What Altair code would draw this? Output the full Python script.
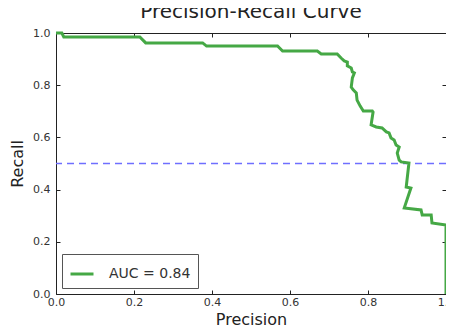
import altair as alt
import pandas as pd

# Precision-recall curve vertices
precision = [0.000, 0.015, 0.020, 0.215, 0.230, 0.376, 0.386, 0.568, 0.581, 0.670,
             0.680, 0.721, 0.731, 0.739, 0.747, 0.747, 0.757, 0.760, 0.765, 0.760,
             0.757, 0.762, 0.770, 0.772, 0.780, 0.788, 0.811, 0.813, 0.808, 0.821,
             0.836, 0.847, 0.854, 0.859, 0.867, 0.872, 0.880, 0.875, 0.880, 0.885,
             0.905, 0.898, 0.910, 0.893, 0.936, 0.939, 0.962, 0.964, 1.000, 1.000]
recall = [1.000, 1.000, 0.985, 0.985, 0.962, 0.962, 0.950, 0.950, 0.931, 0.931,
          0.920, 0.920, 0.904, 0.893, 0.889, 0.874, 0.866, 0.851, 0.847, 0.828,
          0.793, 0.782, 0.770, 0.743, 0.720, 0.701, 0.701, 0.697, 0.648, 0.640,
          0.636, 0.621, 0.617, 0.598, 0.590, 0.571, 0.563, 0.540, 0.513, 0.506,
          0.502, 0.410, 0.406, 0.330, 0.322, 0.303, 0.303, 0.272, 0.264, 0.000]
legend_label = ["AUC = 0.84"]
threshold = [0.5]
tick_values = [0.0, 0.2, 0.4, 0.6, 0.8, 1.0]

df = pd.DataFrame({
    "precision": precision,
    "recall": recall,
    "idx": list(range(len(precision))),
    "series": legend_label * len(precision),
})
rule_df = pd.DataFrame({"y": threshold})

FONT = "DejaVu Sans"
GREEN = "#45a845"

xscale = alt.Scale(domain=[0, 1], nice=False, zero=False)
yscale = alt.Scale(domain=[0, 1], nice=False, zero=False)

rule = alt.Chart(rule_df).mark_rule(
    color="#6f6fff", strokeDash=[7, 5], strokeWidth=1.5
).encode(y=alt.Y("y:Q", scale=yscale, axis=None))

line = alt.Chart(df).mark_line(strokeWidth=3, strokeJoin="miter").encode(
    x=alt.X("precision:Q", scale=xscale,
            axis=alt.Axis(values=tick_values, format=".1f", title="Precision",
                          grid=False, domain=False, tickSize=4, offset=-4,
                          labelFlush=False, labelBound=False,
                          labelPadding=2, labelFontSize=11, labelColor="#333",
                          tickColor="#222", titleFontSize=16, titleFont=FONT,
                          titleFontWeight="normal", titleColor="#222",
                          titlePadding=4, labelFont=FONT)),
    y=alt.Y("recall:Q", scale=yscale,
            axis=alt.Axis(values=tick_values, format=".1f", title="Recall",
                          grid=False, domain=False, tickSize=4, offset=-4,
                          labelFlush=False, labelBound=False,
                          labelPadding=6, labelFontSize=11, labelColor="#333",
                          tickColor="#222", titleFontSize=16, titleFont=FONT,
                          titleFontWeight="normal", titleColor="#222",
                          titlePadding=7, labelFont=FONT)),
    order="idx:Q",
    color=alt.Color("series:N",
                    scale=alt.Scale(domain=legend_label, range=[GREEN]),
                    legend=alt.Legend(title=None, orient="bottom-left",
                                      symbolType="stroke", symbolStrokeWidth=3,
                                      symbolSize=529, labelFontSize=14,
                                      labelFont=FONT, labelColor="#333",
                                      labelOffset=14, padding=7,
                                      strokeColor="#555", fillColor="white",
                                      cornerRadius=0, offset=6)),
)

ticks_tr = alt.Chart(df).mark_line(opacity=0).encode(
    x=alt.X("precision:Q", scale=xscale,
            axis=alt.Axis(orient="top", values=tick_values, labels=False,
                          title=None, grid=False, domain=False, tickSize=4,
                          offset=-4, tickColor="#222")),
    y=alt.Y("recall:Q", scale=yscale,
            axis=alt.Axis(orient="right", values=tick_values, labels=False,
                          title=None, grid=False, domain=False, tickSize=4,
                          offset=-4, tickColor="#222")),
    order="idx:Q",
)

chart = alt.layer(rule, line, ticks_tr).resolve_axis(
    x="independent", y="independent"
).properties(
    width=390, height=261,
    title=alt.TitleParams("Precision-Recall Curve", fontSize=20, font=FONT,
                          fontWeight="normal", color="#222", offset=5),
    autosize=alt.AutoSizeParams(type="none"),
    padding={"left": 48, "top": 25, "right": 0, "bottom": 37},
).configure_view(stroke="#222", strokeWidth=1).configure_axis(grid=False)

chart.save("out.html", embed_options={"renderer": "svg", "actions": False})
